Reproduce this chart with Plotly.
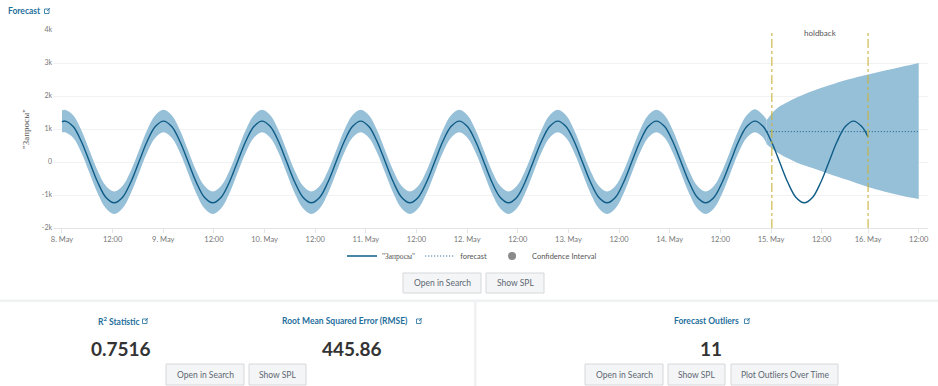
import plotly.graph_objects as go

W, H = 938, 386
FONT = "Lato, 'Open Sans', sans-serif"
SERIF = "'Liberation Serif', 'DejaVu Serif', serif"
BLUE_LINK = "#1f6f9c"
BAND = "#96bfd8"
LINE = "#0f5c86"
PLOT_L, PLOT_R, PLOT_T, PLOT_B = 53, 928, 30, 228

# hours since 8 May 00:00
tick_hours = [0, 12, 24, 36, 48, 60, 72, 84, 96, 108, 120, 132, 144, 156, 168, 180, 191, 203]
tick_labels = ["8. May", "12:00", "9. May", "12:00", "10. May", "12:00", "11. May", "12:00", "12. May",
               "12:00", "13. May", "12:00", "14. May", "12:00", "15. May", "12:00", "16. May", "12:00"]
y_ticks = [-2000, -1000, 0, 1000, 2000, 3000, 4000]
y_labels = ["-2k", "-1k", "0", "1k", "2k", "3k", "4k"]

actual_hours = [0, 0.7, 2.65, 4.59, 6.54, 8.49, 10.43, 12.38, 14.32, 16.27, 18.22, 20.16, 22.11,
                24.06, 26.0, 27.95, 29.9, 31.84, 33.79, 35.74, 37.68, 39.63, 41.57, 43.52, 45.47,
                47.41, 49.36, 51.31, 53.25, 55.2, 57.15, 59.09, 61.04, 62.98, 64.93, 66.88, 68.82,
                70.77, 72.72, 74.66, 76.61, 78.56, 80.5, 82.45, 84.39, 86.34, 88.29, 90.23, 92.18,
                94.13, 96.07, 98.02, 99.97, 101.91, 103.86, 105.81, 107.75, 109.7, 111.64, 113.59, 115.54,
                117.48, 119.43, 121.38, 123.32, 125.27, 127.22, 129.16, 131.11, 133.05, 135.0, 136.95, 138.89,
                140.84, 142.79, 144.73, 146.68, 148.63, 150.57, 152.52, 154.46, 156.41, 158.36, 160.3, 162.25,
                164.2, 166.15, 168.09, 170.04, 171.99, 173.93, 175.88, 177.83, 179.77, 181.72, 183.66, 185.61,
                187.56, 189.5, 191.0]
actual = [1215, 1240, 1075, 620, 0, -620, -1075, -1235, -1075, -620, 0, 620, 1075,
          1240, 1075, 620, 0, -620, -1075, -1235, -1075, -620, 0, 620, 1075,
          1240, 1075, 620, 0, -620, -1075, -1235, -1075, -620, 0, 620, 1075,
          1240, 1075, 620, 0, -620, -1075, -1235, -1075, -620, 0, 620, 1075,
          1240, 1075, 620, 0, -620, -1075, -1235, -1075, -620, 0, 620, 1075,
          1240, 1075, 620, 0, -620, -1075, -1235, -1075, -620, 0, 620, 1075,
          1240, 1075, 620, 0, -620, -1075, -1235, -1075, -620, 0, 620, 1075,
          1240, 1075, 620, 0, -620, -1075, -1235, -1075, -620, 0, 620, 1075,
          1240, 1075, 760]

ci_hours = actual_hours[:87] + [167.0]
ci_upper = [1560, 1580, 1415, 960, 340, -280, -730, -895, -730, -280, 340, 960, 1415,
            1580, 1415, 960, 340, -280, -730, -895, -730, -280, 340, 960, 1415,
            1580, 1415, 960, 340, -280, -730, -895, -730, -280, 340, 960, 1415,
            1580, 1415, 960, 340, -280, -730, -895, -730, -280, 340, 960, 1415,
            1580, 1415, 960, 340, -280, -730, -895, -730, -280, 340, 960, 1415,
            1580, 1415, 960, 340, -280, -730, -895, -730, -280, 340, 960, 1415,
            1580, 1415, 960, 340, -280, -730, -895, -730, -280, 340, 960, 1415,
            1600, 1415, 1270]
ci_lower = [900, 900, 735, 280, -340, -960, -1410, -1575, -1410, -960, -340, 280, 735,
            900, 735, 280, -340, -960, -1410, -1575, -1410, -960, -340, 280, 735,
            900, 735, 280, -340, -960, -1410, -1575, -1410, -960, -340, 280, 735,
            900, 735, 280, -340, -960, -1410, -1575, -1410, -960, -340, 280, 735,
            900, 735, 280, -340, -960, -1410, -1575, -1410, -960, -340, 280, 735,
            900, 735, 280, -340, -960, -1410, -1575, -1410, -960, -340, 280, 735,
            900, 735, 280, -340, -960, -1410, -1575, -1410, -960, -340, 280, 735,
            900, 735, 540]

fc_hours = [167.0, 168.2, 170.0, 172.0, 174.2, 178.0, 182.0, 186.0, 191.0, 195.0, 199.0, 203.0]
fc_upper = [1270, 1470, 1680, 1820, 1960, 2160, 2330, 2490, 2650, 2770, 2885, 3000]
fc_lower = [540, 410, 250, 110, -20, -190, -370, -540, -760, -900, -1020, -1120]
forecast = [920, 920, 920, 920, 920, 920, 920, 920, 920, 920, 920, 920]

holdback_hours = [168.2, 191.0]

metrics = [("R<sup>2</sup> Statistic", 119, "0.7516", 121),
           ("Root Mean Squared Error (RMSE)", 345, "445.86", 352),
           ("Forecast Outliers", 706, "11", 711)]
buttons = [("Open in Search", 403, 481, 273, 293), ("Show SPL", 486, 544, 273, 293),
           ("Open in Search", 166, 244, 364, 385), ("Show SPL", 249, 306, 364, 385),
           ("Open in Search", 585, 663, 364, 385), ("Show SPL", 668, 725, 364, 385),
           ("Plot Outliers Over Time", 731, 838, 364, 385)]
link_icons = [(47, 11), (145, 321), (419, 321), (747, 321)]


def px(x):
    return (x - PLOT_L) / (PLOT_R - PLOT_L)


def py(y):
    return (PLOT_B - y) / (PLOT_B - PLOT_T)


fig = go.Figure()
for hrs, up, lo in [(ci_hours, ci_upper, ci_lower), (fc_hours, fc_upper, fc_lower)]:
    fig.add_trace(go.Scatter(x=hrs, y=up, mode="lines", line=dict(width=0, color=BAND, shape="spline"),
                             showlegend=False, hoverinfo="skip"))
    fig.add_trace(go.Scatter(x=hrs, y=lo, mode="lines", line=dict(width=0, color=BAND, shape="spline"),
                             fill="tonexty", fillcolor=BAND, showlegend=False, hoverinfo="skip"))
fig.add_trace(go.Scatter(x=actual_hours, y=actual, mode="lines",
                         name=f'<span style="font-family:{SERIF}">"Запросы"</span>',
                         line=dict(color=LINE, width=1.4, shape="spline")))
fig.add_trace(go.Scatter(x=fc_hours, y=forecast, mode="lines", name="forecast",
                         line=dict(color=LINE, width=1, dash="1px,2px")))
fig.add_trace(go.Scatter(x=[None], y=[None], mode="markers", name="Confidence Interval",
                         marker=dict(color="#8a8a8a", size=8, symbol="circle")))

shapes = []
for h in holdback_hours:
    shapes.append(dict(type="line", xref="x", yref="y", x0=h, x1=h, y0=-2000, y1=4000,
                       line=dict(color="#c9b23a", width=1.1, dash="dashdot"), layer="above"))


def pshape(kind, x0, y0, x1, y1, **kw):
    shapes.append(dict(type=kind, xref="paper", yref="paper", x0=px(x0), x1=px(x1), y0=py(y0), y1=py(y1), **kw))


pshape("rect", 0, 299.5, W, 302, fillcolor="#f0f1f2", line=dict(width=0))
pshape("rect", 474, 300, 476.5, H, fillcolor="#f0f1f2", line=dict(width=0))

annotations = [dict(x=px(820), y=py(33), xref="paper", yref="paper", text="holdback", showarrow=False,
                    font=dict(size=8, color="#555"), xanchor="center", yanchor="middle"),
               dict(x=px(6), y=py(11), xref="paper", yref="paper", text="<b>Forecast</b>", showarrow=False,
                    font=dict(size=8.5, color=BLUE_LINK), xanchor="left", yanchor="middle")]

for title, tx, val, vx in metrics:
    annotations.append(dict(x=px(tx), y=py(321), xref="paper", yref="paper", text=f"<b>{title}</b>", showarrow=False,
                            font=dict(size=8.5, color=BLUE_LINK), xanchor="center", yanchor="middle"))
    annotations.append(dict(x=px(vx), y=py(348), xref="paper", yref="paper", text=f"<b>{val}</b>", showarrow=False,
                            font=dict(size=19, color="#333333"), xanchor="center", yanchor="middle"))

for ix, iy in link_icons:
    pshape("rect", ix - 2.5, iy - 2, ix + 2, iy + 2.5, line=dict(color=BLUE_LINK, width=0.8),
           fillcolor="rgba(0,0,0,0)")
    pshape("line", ix, iy, ix + 3, iy - 3, line=dict(color=BLUE_LINK, width=0.8))

for label, x0, x1, y0, y1 in buttons:
    pshape("rect", x0, y0, x1, y1, fillcolor="#f4f5f6", line=dict(color="#d5d8da", width=1))
    annotations.append(dict(x=px((x0 + x1) / 2), y=py((y0 + y1) / 2), xref="paper", yref="paper", text=label,
                            showarrow=False, font=dict(size=8.5, color="#5c6773"),
                            xanchor="center", yanchor="middle"))

fig.update_layout(
    width=W, height=H, autosize=False,
    margin=dict(l=PLOT_L, r=W - PLOT_R, t=PLOT_T, b=H - PLOT_B),
    paper_bgcolor="white", plot_bgcolor="white",
    font=dict(family=FONT, size=8, color="#777"),
    shapes=shapes, annotations=annotations,
    legend=dict(orientation="h", x=px(472), xanchor="center", y=py(256), yanchor="middle", traceorder="normal",
                font=dict(size=7.5, color="#555"), itemwidth=30, bgcolor="rgba(0,0,0,0)"),
    xaxis=dict(range=[-2.13, 205.2], tickmode="array", tickvals=tick_hours, ticktext=tick_labels,
               showgrid=False, zeroline=False, showline=True, linecolor="#e2e4e6", linewidth=1,
               ticks="outside", ticklen=4, tickcolor="#e2e4e6", tickfont=dict(size=7.5, color="#777")),
    yaxis=dict(range=[-2000, 4000], tickmode="array", tickvals=y_ticks, ticktext=y_labels,
               showgrid=True, gridcolor="#f1f2f3", zeroline=False, showline=False,
               tickfont=dict(size=7, color="#777"), ticks="",
               title=dict(text='"Запросы"', font=dict(size=9, color="#555", family=SERIF), standoff=10)),
)
fig.write_html("out.html", config={"displayModeBar": False}, post_script="document.body.style.margin='0';")
